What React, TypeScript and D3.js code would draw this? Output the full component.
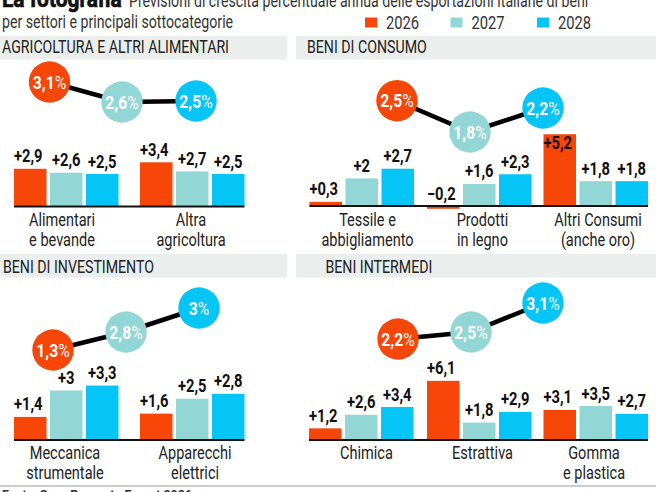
import React from "react";
import * as d3 from "d3";

const years = ["2026", "2027", "2028"];
const colors = ["#f64608", "#93d6d6", "#05c4f6"];

const sectors = ["AGRICOLTURA E ALTRI ALIMENTARI", "BENI DI CONSUMO", "BENI DI INVESTIMENTO", "BENI INTERMEDI"];
const sectorTotals = [[3.1, 2.6, 2.5], [2.5, 1.8, 2.2], [1.3, 2.8, 3], [2.2, 2.5, 3.1]];

const agriCats = [["Alimentari", "e bevande"], ["Altra", "agricoltura"]];
const agriVals = [[2.9, 2.6, 2.5], [3.4, 2.7, 2.5]];
const consCats = [["Tessile e", "abbigliamento"], ["Prodotti", "in legno"], ["Altri Consumi", "(anche oro)"]];
const consVals = [[0.3, 2, 2.7], [-0.2, 1.6, 2.3], [5.2, 1.8, 1.8]];
const invCats = [["Meccanica", "strumentale"], ["Apparecchi", "elettrici"]];
const invVals = [[1.4, 3, 3.3], [1.6, 2.5, 2.8]];
const interCats = [["Chimica"], ["Estrattiva"], ["Gomma", "e plastica"]];
const interVals = [[1.2, 2.6, 3.4], [6.1, 1.8, 2.9], [3.1, 3.5, 2.7]];

const FONT = "Roboto, sans-serif";

const fmt = (v: number) => (v < 0 ? "\u2212" : "+") + String(Math.abs(v)).replace(".", ",");
const num = (v: number) => String(v).replace(".", ",");

function T({ x, y, sx = 0.88, anchor = "start", size = 16, weight = 400, fill = "#222", stroke, children }: any) {
  return (
    <text
      transform={`translate(${x},${y}) scale(${sx},1)`}
      textAnchor={anchor}
      fontSize={size}
      fontWeight={weight}
      fill={fill}
      stroke={stroke}
      strokeWidth={stroke ? 0.7 : undefined}
    >
      {children}
    </text>
  );
}

const panels = [
  { hx: [0, 287], hy: 36, ty: 53, tx: 2, cats: agriCats, vals: agriVals, base: 206.5, unit: 13, groups: [14, 140], lx: [62, 191], ly: [225.5, 245.5],
    bx: [49.5, 122, 196], bd: [2.5, 2.6, 3.1], br: [101, 102, 82], sector: 0 },
  { hx: [296, 656], hy: 36, ty: 53, tx: 307, cats: consCats, vals: consVals, base: 206, unit: 13.8, groups: [309.5, 427, 543.5], lx: [367.5, 482.5, 598], ly: [225.5, 245.5],
    bx: [397, 470, 543], bd: [1.8, 2.2, 2.5], br: [132, 108, 100.7], sector: 1 },
  { hx: [0, 287], hy: 254, ty: 273, tx: 3, cats: invCats, vals: invVals, base: 440, unit: 16.5, groups: [14, 140], lx: [65, 195], ly: [458.5, 478.5],
    bx: [53, 126, 199], bd: [1.3, 2.8, 3], br: [350, 332, 308], sector: 2 },
  { hx: [296, 656], hy: 254, ty: 273, tx: 325.5, cats: interCats, vals: interVals, base: 440, unit: 9.7, groups: [309, 427, 543.5], lx: [366.5, 482.5, 594], ly: [458.5, 478.5],
    bx: [398, 471, 543], bd: [2.2, 2.5, 3.1], br: [339, 332, 303], sector: 3 },
];

const barW = 32.5;
const step = 36;

function Panel({ p }: { p: (typeof panels)[number] }) {
  const y = d3.scaleLinear().domain([0, 1]).range([p.base, p.base - p.unit]);
  const by = d3.scaleLinear().domain(p.bd).range(p.br);
  const totals = sectorTotals[p.sector];
  const line = d3.line<number>().x((_, i) => p.bx[i]).y((d) => by(d));
  const x0 = p.groups[0];
  const xEnd = p.groups[p.groups.length - 1] + 2 * step + barW;
  return (
    <g>
      <rect x={p.hx[0]} y={p.hy} width={p.hx[1] - p.hx[0]} height={23.5} fill="#eaeeed" />
      <T x={p.tx} y={p.ty} size={17.5} sx={0.81}>{sectors[p.sector]}</T>
      <path d={line(totals) ?? ""} fill="none" stroke="#000" strokeWidth={4.5} />
      {totals.map((v, i) => (
        <g key={i}>
          <circle cx={p.bx[i]} cy={by(v)} r={20.7} fill={colors[i]} />
          <T x={p.bx[i]} y={by(v) + 6.5} anchor="middle" size={18.5} sx={0.85} weight={700} fill="#fff">
            {num(v)}
            <tspan fontWeight={400}>%</tspan>
          </T>
        </g>
      ))}
      {p.vals.map((g, gi) =>
        g.map((v, i) => {
          const top = Math.min(y(v), y(0));
          const h = Math.abs(y(v) - y(0));
          const inside = v > 5 && v < 6;
          return (
            <g key={`${gi}-${i}`}>
              <rect x={p.groups[gi] + i * step} y={top} width={barW} height={h} fill={colors[i]} />
              <T
                x={p.groups[gi] + i * step + barW / 2 - (i === 0 ? 2 : 0)}
                y={inside ? top + 15 : top - 6.5}
                anchor="middle"
                size={18}
                sx={0.82}
                weight={700}
                fill="#111"
              >{fmt(v)}</T>
            </g>
          );
        })
      )}
      <line x1={x0} x2={xEnd} y1={p.base} y2={p.base} stroke="#111" strokeWidth={2} />
      {p.cats.map((lines, gi) =>
        lines.map((t, li) => (
          <T key={`${gi}-${li}`} x={p.lx[gi]} y={p.ly[li]} anchor="middle" size={17.5} sx={0.83}>{t}</T>
        ))
      )}
    </g>
  );
}

export default function App() {
  const legendX = [365, 450.5, 537];
  return (
    <svg width={656} height={492} style={{ position: "absolute", left: 0, top: 0, background: "#fff" }} fontFamily={FONT}>
      <T x={2} y={7} size={24} sx={0.87} weight={700} fill="#111" stroke="#111">La fotografia</T>
      <T x={129} y={7} size={17.5} sx={0.81} fill="#333">Previsioni di crescita percentuale annua delle esportazioni italiane di beni</T>
      <T x={2} y={28} size={17.5} sx={0.81} fill="#333">per settori e principali sottocategorie</T>
      {years.map((yr, i) => (
        <g key={yr}>
          <rect x={legendX[i]} y={17.5} width={12} height={10} fill={colors[i]} />
          <T x={legendX[i] + 21} y={29} size={18} sx={0.82} fill="#333">{yr}</T>
        </g>
      ))}
      {panels.map((p) => <Panel key={p.sector} p={p} />)}
      <line x1={0} x2={656} y1={486} y2={486} stroke="#bbb" strokeWidth={1.5} />
      <T x={2} y={499} size={13} sx={0.95} weight={700} fill="#333">Fonte: Sace Rapporto Export 2026</T>
    </svg>
  );
}
